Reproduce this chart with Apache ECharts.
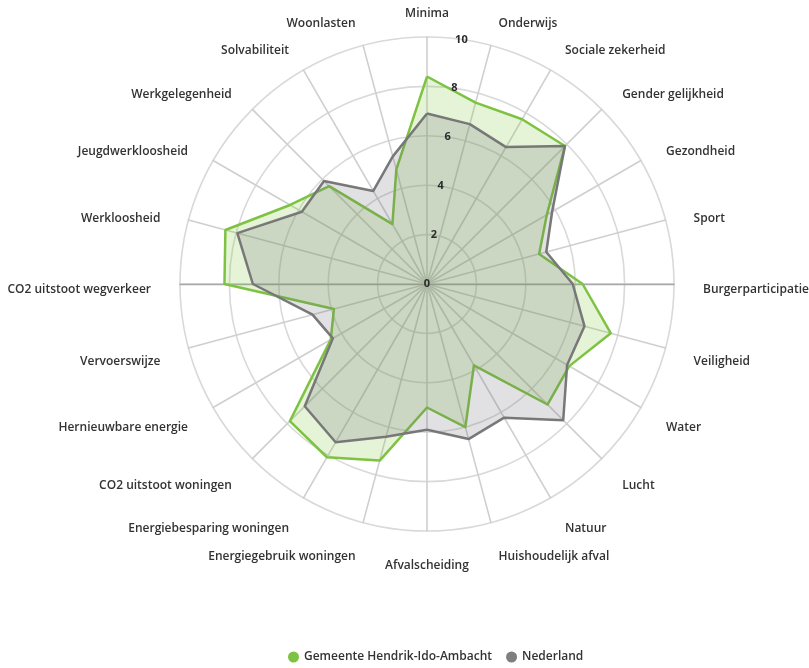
<!DOCTYPE html>
<html>
<head>
<meta charset="utf-8">
<script src="https://cdn.jsdelivr.net/npm/echarts@6/dist/echarts.min.js"></script>
<style>
html,body{margin:0;padding:0;background:#fff;}
#chart{width:809px;height:668px;}
</style>
</head>
<body>
<div id="chart"></div>
<script>
// Categories in clockwise order starting at the top
const categories = [
  "Minima", "Onderwijs", "Sociale zekerheid", "Gender gelijkheid", "Gezondheid", "Sport",
  "Burgerparticipatie", "Veiligheid", "Water", "Lucht", "Natuur", "Huishoudelijk afval",
  "Afvalscheiding", "Energiegebruik woningen", "Energiebesparing woningen", "CO2 uitstoot woningen",
  "Hernieuwbare energie", "Vervoerswijze", "CO2 uitstoot wegverkeer", "Werkloosheid",
  "Jeugdwerkloosheid", "Werkgelegenheid", "Solvabiliteit", "Woonlasten"
];
const seriesNames = ["Gemeente Hendrik-Ido-Ambacht", "Nederland"];
const hiaValues = [8.4, 7.6, 7.7, 7.9, 5.6, 4.7, 6.3, 7.7, 6.65, 6.9, 3.8, 6.0,
                   5.0, 7.4, 8.1, 7.85, 4.5, 3.9, 8.2, 8.45, 6.4, 5.6, 2.8, 4.8];
const nlValues  = [6.9, 6.7, 6.4, 7.9, 5.85, 5.0, 5.9, 6.6, 6.55, 7.8, 6.25, 6.5,
                   5.9, 6.4, 7.4, 7.0, 4.4, 4.8, 7.05, 7.95, 5.85, 5.9, 4.35, 5.35];
const scaleMin = 0, scaleMax = 10, scaleStep = 2;

// ECharts radar runs counter-clockwise: reorder so the picture reads clockwise
const order = [0];
for (let i = categories.length - 1; i >= 1; i--) order.push(i);
const reorder = arr => order.map(i => arr[i]);

const center = [427, 284];
const labelCenter = [427, 290];
const radius = 247;
const font = "'Open Sans', 'Noto Sans', sans-serif";
const indicators = reorder(categories).map(n => ({ name: n, min: scaleMin, max: scaleMax }));

const hiddenAngle = (idx, start) => ({
  type: 'value', min: 0, max: 360, startAngle: start, polarIndex: idx,
  axisLine: { show: false }, axisTick: { show: false },
  axisLabel: { show: false }, splitLine: { show: false }
});

const chart = echarts.init(document.getElementById('chart'));
chart.setOption({
  backgroundColor: '#fff',
  textStyle: { fontFamily: font },
  legend: {
    bottom: 0,
    left: 283,
    icon: 'circle',
    itemWidth: 11,
    itemHeight: 11,
    itemGap: 14,
    textStyle: { fontSize: 12, color: '#333', fontFamily: font, fontWeight: 600 },
    data: seriesNames
  },
  radar: [{
    center: center,
    radius: radius,
    shape: 'circle',
    splitNumber: (scaleMax - scaleMin) / scaleStep,
    startAngle: 90,
    axisName: { show: false },
    indicator: indicators,
    splitLine: { lineStyle: { color: '#d9d9d9', width: 1.6 } },
    splitArea: { show: false },
    axisLine: { lineStyle: { color: '#cfcfcf', width: 1.6 } },
    axisTick: { show: false },
    axisLabel: { show: false }
  }, {
    center: labelCenter,
    radius: radius,
    shape: 'circle',
    splitNumber: (scaleMax - scaleMin) / scaleStep,
    startAngle: 90,
    nameGap: 29,
    axisName: { color: '#333', fontSize: 12, fontFamily: font, fontWeight: 600, verticalAlign: 'middle' },
    indicator: indicators,
    splitLine: { show: false },
    splitArea: { show: false },
    axisLine: { show: false },
    axisTick: { show: false },
    axisLabel: { show: false }
  }],
  polar: [
    { center: center, radius: radius },
    { center: center, radius: radius },
    { center: center, radius: radius }
  ],
  angleAxis: [hiddenAngle(0, 82), hiddenAngle(1, 0), hiddenAngle(2, 180)],
  radiusAxis: [{
    polarIndex: 0,
    type: 'value', min: scaleMin, max: scaleMax, interval: scaleStep,
    axisLine: { show: false }, axisTick: { show: false }, splitLine: { show: false },
    axisLabel: { margin: 0, align: 'center', verticalAlign: 'middle',
                 color: '#2b2b2b', fontSize: 11, fontWeight: 'bold', fontFamily: font },
    z: 10
  }, {
    polarIndex: 1,
    type: 'value', min: scaleMin, max: scaleMax,
    axisLine: { show: true, lineStyle: { color: '#a8a8a8', width: 1.3 } },
    axisTick: { show: false }, splitLine: { show: false }, axisLabel: { show: false },
    z: 1
  }, {
    polarIndex: 2,
    type: 'value', min: scaleMin, max: scaleMax,
    axisLine: { show: true, lineStyle: { color: '#a8a8a8', width: 1.3 } },
    axisTick: { show: false }, splitLine: { show: false }, axisLabel: { show: false },
    z: 1
  }],
  series: [{
    type: 'radar',
    radarIndex: 0,
    symbol: 'none',
    z: 2,
    data: [
      {
        name: seriesNames[0],
        value: reorder(hiaValues),
        itemStyle: { color: '#7dc242' },
        lineStyle: { color: '#7dc242', width: 2.5 },
        areaStyle: { color: 'rgba(132,196,65,0.3)' }
      },
      {
        name: seriesNames[1],
        value: reorder(nlValues),
        itemStyle: { color: '#7f7f7f' },
        lineStyle: { color: '#7a7a7a', width: 2.5 },
        areaStyle: { color: 'rgba(100,100,112,0.28)' }
      }
    ]
  }]
});
</script>
</body>
</html>
